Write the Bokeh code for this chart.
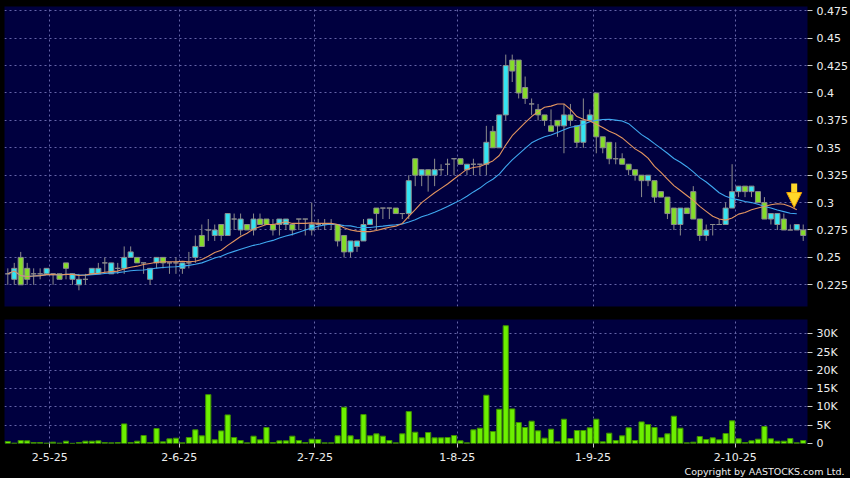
import numpy as np
import pandas as pd
from bokeh.plotting import figure
from bokeh.layouts import column
from bokeh.models import Range1d, FixedTicker, Title, Arrow, NormalHead
from bokeh.embed import file_html
from bokeh.resources import INLINE

# ---------------- data ----------------
opens = [0.235, 0.23, 0.25, 0.24, 0.235, 0.235, 0.235, 0.235, 0.235, 0.245,
         0.23, 0.225, 0.23, 0.235, 0.235, 0.245, 0.235, 0.24, 0.24, 0.25,
         0.25, 0.245, 0.23, 0.245, 0.25, 0.245, 0.245, 0.24, 0.245, 0.25,
         0.27, 0.275, 0.27, 0.28, 0.27, 0.285, 0.275, 0.28, 0.275, 0.285,
         0.285, 0.28, 0.28, 0.28, 0.28, 0.285, 0.285, 0.275, 0.28, 0.28,
         0.28, 0.28, 0.27, 0.255, 0.26, 0.265, 0.28, 0.295, 0.295, 0.295,
         0.295, 0.29, 0.29, 0.34, 0.325, 0.33, 0.325, 0.33, 0.335, 0.34,
         0.34, 0.33, 0.335, 0.335, 0.335, 0.365, 0.35, 0.38, 0.43, 0.43,
         0.405, 0.39, 0.385, 0.38, 0.37, 0.375, 0.37, 0.38, 0.37, 0.355,
         0.375, 0.40, 0.36, 0.355, 0.34, 0.34, 0.335, 0.33, 0.325, 0.32,
         0.32, 0.31, 0.305, 0.295, 0.28, 0.295, 0.31, 0.285, 0.27, 0.28,
         0.28, 0.28, 0.295, 0.31, 0.315, 0.31, 0.31, 0.30, 0.285, 0.28,
         0.285, 0.275, 0.275, 0.275]
highs = [0.24, 0.245, 0.255, 0.245, 0.24, 0.24, 0.24, 0.235, 0.235, 0.245,
         0.235, 0.235, 0.235, 0.24, 0.245, 0.25, 0.245, 0.245, 0.26, 0.26,
         0.25, 0.245, 0.24, 0.25, 0.25, 0.245, 0.25, 0.245, 0.255, 0.27,
         0.28, 0.285, 0.28, 0.28, 0.29, 0.29, 0.29, 0.28, 0.29, 0.29,
         0.285, 0.285, 0.285, 0.285, 0.28, 0.285, 0.285, 0.30, 0.285, 0.285,
         0.285, 0.28, 0.27, 0.265, 0.265, 0.285, 0.285, 0.295, 0.295, 0.295,
         0.295, 0.29, 0.325, 0.34, 0.33, 0.33, 0.34, 0.335, 0.34, 0.34,
         0.34, 0.335, 0.34, 0.335, 0.37, 0.37, 0.38, 0.435, 0.435, 0.43,
         0.415, 0.395, 0.39, 0.38, 0.385, 0.375, 0.39, 0.39, 0.37, 0.395,
         0.385, 0.40, 0.36, 0.355, 0.355, 0.345, 0.335, 0.33, 0.325, 0.325,
         0.32, 0.31, 0.305, 0.295, 0.295, 0.295, 0.315, 0.285, 0.28, 0.28,
         0.285, 0.30, 0.335, 0.315, 0.315, 0.315, 0.31, 0.305, 0.29, 0.29,
         0.29, 0.28, 0.28, 0.28]
lows = [0.225, 0.225, 0.225, 0.225, 0.225, 0.23, 0.235, 0.225, 0.23, 0.23,
        0.225, 0.22, 0.225, 0.235, 0.235, 0.235, 0.235, 0.235, 0.235, 0.25,
        0.245, 0.235, 0.225, 0.24, 0.24, 0.235, 0.235, 0.235, 0.24, 0.245,
        0.26, 0.265, 0.265, 0.265, 0.27, 0.275, 0.27, 0.275, 0.27, 0.28,
        0.28, 0.27, 0.27, 0.275, 0.27, 0.275, 0.27, 0.27, 0.275, 0.275,
        0.275, 0.26, 0.25, 0.25, 0.255, 0.265, 0.28, 0.275, 0.285, 0.285,
        0.29, 0.285, 0.285, 0.315, 0.315, 0.31, 0.315, 0.325, 0.325, 0.325,
        0.335, 0.325, 0.325, 0.325, 0.325, 0.35, 0.35, 0.375, 0.41, 0.395,
        0.39, 0.38, 0.375, 0.37, 0.365, 0.36, 0.345, 0.37, 0.35, 0.35,
        0.375, 0.345, 0.345, 0.335, 0.335, 0.335, 0.325, 0.32, 0.305, 0.315,
        0.30, 0.305, 0.285, 0.275, 0.27, 0.29, 0.285, 0.265, 0.265, 0.27,
        0.28, 0.28, 0.295, 0.305, 0.305, 0.305, 0.30, 0.285, 0.28, 0.275,
        0.275, 0.275, 0.275, 0.265]
closes = [0.235, 0.24, 0.225, 0.23, 0.235, 0.235, 0.24, 0.235, 0.23, 0.24,
          0.235, 0.23, 0.23, 0.24, 0.24, 0.245, 0.245, 0.24, 0.25, 0.255,
          0.245, 0.245, 0.24, 0.25, 0.245, 0.245, 0.245, 0.245, 0.245, 0.26,
          0.26, 0.275, 0.275, 0.27, 0.29, 0.285, 0.285, 0.275, 0.285, 0.28,
          0.28, 0.275, 0.285, 0.285, 0.275, 0.285, 0.285, 0.28, 0.28, 0.28,
          0.28, 0.265, 0.255, 0.265, 0.265, 0.28, 0.285, 0.29, 0.295, 0.295,
          0.29, 0.29, 0.32, 0.325, 0.33, 0.325, 0.33, 0.33, 0.335, 0.34,
          0.335, 0.335, 0.335, 0.335, 0.355, 0.35, 0.38, 0.425, 0.42, 0.40,
          0.395, 0.39, 0.38, 0.375, 0.365, 0.37, 0.38, 0.375, 0.355, 0.375,
          0.38, 0.36, 0.35, 0.34, 0.34, 0.335, 0.33, 0.325, 0.32, 0.325,
          0.305, 0.305, 0.29, 0.28, 0.295, 0.29, 0.285, 0.27, 0.275, 0.28,
          0.28, 0.295, 0.31, 0.315, 0.31, 0.315, 0.30, 0.285, 0.29, 0.29,
          0.275, 0.275, 0.28, 0.27]
volumes = [550, 100, 820, 730, 270, 270, 100, 360, 100, 640,
           50, 270, 640, 640, 730, 270, 180, 270, 5360, 270,
           640, 2180, 270, 4090, 450, 1270, 1450, 180, 1640, 3730,
           2090, 13360, 1000, 3450, 7820, 1640, 820, 180, 2000, 1000,
           4360, 270, 730, 730, 2000, 820, 270, 1180, 1090, 180,
           180, 2090, 9910, 2090, 1090, 7910, 2090, 2640, 2000, 820,
           180, 2640, 8730, 3090, 1550, 3000, 1550, 1550, 1640, 2180,
           730, 180, 3730, 4190, 13190, 3270, 9370, 32200, 9460, 5730,
           4370, 6100, 3460, 1460, 3910, 460, 6640, 1370, 3550, 3550,
           4280, 6640, 460, 2820, 820, 2090, 4280, 820, 5910, 5190,
           4370, 1550, 2640, 7460, 4190, 180, 360, 1910, 1090, 1550,
           1000, 2730, 6190, 1270, 270, 730, 1180, 4640, 1270, 640,
           640, 1370, 180, 820]

month_labels = ["2-5-25", "2-6-25", "2-7-25", "1-8-25", "1-9-25", "2-10-25"]
month_first_idx = [7, 27, 48, 70, 91, 113]

price_ticks = [0.225, 0.25, 0.275, 0.3, 0.325, 0.35, 0.375, 0.4, 0.425, 0.45, 0.475]
price_tick_labels = ["0.225", "0.25", "0.275", "0.3", "0.325", "0.35", "0.375",
                     "0.4", "0.425", "0.45", "0.475"]
vol_ticks = [0, 5000, 10000, 15000, 20000, 25000, 30000]
vol_tick_labels = ["0", "5K", "10K", "15K", "20K", "25K", "30K"]

# ---------------- derived ----------------
n = len(closes)
x = np.arange(n)
o = np.array(opens); c = np.array(closes)
h = np.array(highs); l = np.array(lows)
up = c > o
down = c < o
flat = c == o
ma10 = pd.Series(c).rolling(10, min_periods=1).mean().values
ma20 = pd.Series(c).rolling(20, min_periods=1).mean().values

BG = "#00003f"
GRID = "#6464a8"
TXT = "#eeeeee"
FONT = "DejaVu Sans"
CYAN = "#33e4f2"
GREEN = "#84dc2a"
EDGE = "#8c8c8c"

grid_x = [i - 0.5 for i in month_first_idx]
xr = Range1d(-0.51, n - 0.34)


def style_grids(fig):
    for g in fig.xgrid:
        g.ticker = FixedTicker(ticks=grid_x)
        g.grid_line_color = GRID
        g.grid_line_dash = "2 3"
        g.grid_line_width = 1
    for g in fig.ygrid:
        g.grid_line_color = GRID
        g.grid_line_dash = "2 3"
        g.grid_line_width = 1


def style_yaxis(a, ticks, labels):
    a.ticker = FixedTicker(ticks=ticks)
    a.major_label_overrides = dict(zip(ticks, labels))
    a.axis_line_color = None
    a.major_tick_in = 0
    a.major_tick_out = 5
    a.major_tick_line_color = "#cccccc"
    a.minor_tick_line_color = None
    a.major_label_text_color = TXT
    a.major_label_text_font = FONT
    a.major_label_text_font_size = "11px"
    a.major_label_standoff = 4


# ---------------- price panel ----------------
p = figure(width=850, height=312, x_range=xr, y_range=Range1d(0.2052, 0.4789),
           output_backend="svg", toolbar_location=None, y_axis_location="right",
           min_border_left=4, min_border_right=42, min_border_top=6, min_border_bottom=6,
           background_fill_color=BG, border_fill_color="black", outline_line_color=None)
p.xaxis.visible = False
style_grids(p)
p.ygrid.ticker = FixedTicker(ticks=price_ticks)
style_yaxis(p.yaxis[0], price_ticks, price_tick_labels)

p.segment(x0=x, y0=h, x1=x, y1=l, line_color=EDGE, line_width=1)
p.vbar(x=x[up], top=c[up], bottom=o[up], width=0.78, fill_color=CYAN,
       line_color=EDGE, line_width=1)
p.vbar(x=x[down], top=o[down], bottom=c[down], width=0.78, fill_color=GREEN,
       line_color=EDGE, line_width=1)
p.vbar(x=x[flat], top=o[flat], bottom=c[flat], width=0.78, fill_color=EDGE,
       line_color=EDGE, line_width=1)
p.line(x[:-1], ma20[:-1], line_color="#3fa8f0", line_width=1.1)
p.line(x[:-1], ma10[:-1], line_color="#e39560", line_width=1.1)

tip_y = ma10[-2] + 0.002
p.add_layout(Arrow(end=NormalHead(size=15, fill_color="#ffd82a", line_color="#f0a000",
                                  line_width=1),
                   x_start=x[-1] - 1.4, y_start=tip_y + 0.022,
                   x_end=x[-1] - 1.4, y_end=tip_y,
                   line_color="#ffd82a", line_width=6))

# ---------------- volume panel ----------------
v = figure(width=850, height=166, x_range=xr, y_range=Range1d(0, 33900),
           output_backend="svg", toolbar_location=None, y_axis_location="right",
           min_border_left=4, min_border_right=42, min_border_top=7, min_border_bottom=35,
           background_fill_color=BG, border_fill_color="black", outline_line_color=None)
style_grids(v)
v.ygrid.ticker = FixedTicker(ticks=vol_ticks)
style_yaxis(v.yaxis[0], vol_ticks, vol_tick_labels)

xa = v.xaxis[0]
xa.ticker = FixedTicker(ticks=grid_x)
xa.major_label_overrides = dict(zip(grid_x, month_labels))
xa.axis_line_color = None
xa.major_tick_in = 0
xa.major_tick_out = 4
xa.major_tick_line_color = "#cccccc"
xa.minor_tick_line_color = None
xa.major_label_text_color = TXT
xa.major_label_text_font = FONT
xa.major_label_text_font_size = "11px"
xa.major_label_standoff = 5

v.vbar(x=x, top=volumes, bottom=0, width=0.8, fill_color="#6cf000",
       line_color="#3f8f00", line_width=1)

v.add_layout(Title(text="Copyright by AASTOCKS.com Ltd.", align="right", offset=-37,
                   text_color=TXT, text_font=FONT, text_font_size="9.5px",
                   text_font_style="normal", standoff=0), "below")

layout = column(p, v, spacing=0, styles={"background-color": "black"})

html = file_html(layout, INLINE)
html = html.replace("</head>",
                    "<style>html,body{margin:0;padding:0;background:#000;overflow:hidden;}</style></head>", 1)
open("out.html", "w").write(html)
